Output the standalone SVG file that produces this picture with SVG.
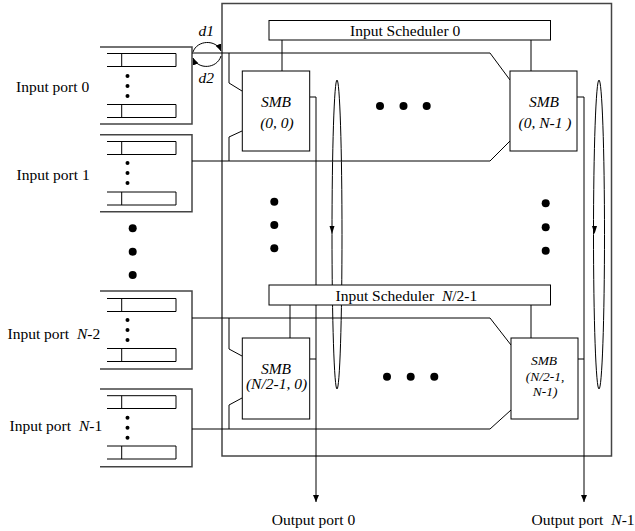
<svg xmlns="http://www.w3.org/2000/svg" width="635" height="531" viewBox="0 0 635 531">
<style>
text{font-family:"Liberation Serif","Times New Roman",serif;font-size:15.5px;fill:#000}
.it{font-style:italic}
.sm{font-size:13.5px}
.ln{fill:none;stroke:#000;stroke-width:1}
.gr{fill:none;stroke:#444;stroke-width:1.5}
.box{fill:#fff;stroke:#000;stroke-width:1}
.dot{fill:#000}
</style>
<defs>
<marker id="ah" markerWidth="8" markerHeight="8" refX="7" refY="4" orient="auto" markerUnits="userSpaceOnUse">
<path d="M0,1 L7,4 L0,7 Z" fill="#000"/>
</marker>
</defs>
<rect width="635" height="531" fill="#fff"/>

<g id="outer-box"><rect x="222" y="3.5" width="389.5" height="452.5" class="gr"/></g>

<g id="port0">
<path d="M100,47 H192 V124 H100" class="gr"/>
<path d="M107,53.5 H176 V66.5 H107 M121.7,53.5 V66.5 M107,104.5 H176 V117.5 H107 M121.7,104.5 V117.5" class="ln"/>
<circle cx="127.5" cy="76" r="2" class="dot"/><circle cx="127.5" cy="86" r="2" class="dot"/><circle cx="127.5" cy="96" r="2" class="dot"/>
<text x="16" y="91.5">Input port 0</text>
</g>
<g id="port1">
<path d="M100,134.7 H192 V211.7 H100" class="gr"/>
<path d="M107,141.5 H176 V154.5 H107 M121.7,141.5 V154.5 M107,192 H176 V205 H107 M121.7,192 V205" class="ln"/>
<circle cx="127.5" cy="163" r="2" class="dot"/><circle cx="127.5" cy="173" r="2" class="dot"/><circle cx="127.5" cy="183" r="2" class="dot"/>
<text x="16.5" y="180">Input port 1</text>
</g>
<g id="portN2">
<path d="M100,291 H192 V369 H100" class="gr"/>
<path d="M107,298.5 H176 V311.5 H107 M121.7,298.5 V311.5 M107,348.5 H176 V361.5 H107 M121.7,348.5 V361.5" class="ln"/>
<circle cx="127.5" cy="320" r="2" class="dot"/><circle cx="127.5" cy="330" r="2" class="dot"/><circle cx="127.5" cy="340" r="2" class="dot"/>
<text x="7.5" y="338.5">Input port <tspan class="it" dx="4">N</tspan>-2</text>
</g>
<g id="portN1">
<path d="M100,389 H192 V466.7 H100" class="gr"/>
<path d="M107,395.7 H176 V408.5 H107 M121.7,395.7 V408.5 M107,446 H176 V459 H107 M121.7,446 V459" class="ln"/>
<circle cx="127.5" cy="417.7" r="2" class="dot"/><circle cx="127.5" cy="427.7" r="2" class="dot"/><circle cx="127.5" cy="437.7" r="2" class="dot"/>
<text x="9.5" y="431">Input port <tspan class="it" dx="4">N</tspan>-1</text>
</g>

<g id="port-ellipsis">
<circle cx="132.7" cy="228.3" r="4" class="dot"/><circle cx="132.7" cy="251.7" r="4" class="dot"/><circle cx="132.7" cy="275" r="4" class="dot"/>
</g>

<g id="connectors">
<path d="M192,53 H490 L510,80" class="ln"/>
<path d="M192,161 H490 L510,141" class="ln"/>
<path d="M192,318 H490 L511,345" class="ln"/>
<path d="M192,429 H490 L511,410" class="ln"/>
<path d="M229,53 V83 L242,91 M242,131 L229,137 V161" class="ln"/>
<path d="M229,318 V349 L242,356 M242,398 L229,405 V429" class="ln"/>
<path d="M282,40 V71 M531,40 V71 M290,305 V338 M531,305 V338" class="ln"/>
<path d="M310,97 H316 V502" class="ln" marker-end="url(#ah)"/>
<path d="M310,359 H316" class="ln"/>
<path d="M577,97 H584 V502" class="ln" marker-end="url(#ah)"/>
<path d="M578,359 H584" class="ln"/>
<ellipse cx="337" cy="234.5" rx="5" ry="154.5" class="ln"/>
<path d="M329.5,226 L334.5,226 L332,234 Z" class="dot"/>
<ellipse cx="599" cy="234.5" rx="5.5" ry="154.5" class="ln"/>
<path d="M592,226 L597,226 L594.5,234 Z" class="dot"/>
<path d="M193,52 C197,40 216,39 221,51" class="ln" marker-end="url(#ah)"/>
<path d="M221,56 C217,69 198,70 193,58" class="ln" marker-end="url(#ah)"/>
<text x="198.5" y="35.5" class="it">d1</text>
<text x="198.5" y="82.5" class="it">d2</text>
</g>

<g id="scheduler0">
<rect x="269" y="20.5" width="281.5" height="19.5" class="box"/>
<text x="350" y="35.5">Input Scheduler 0</text>
</g>
<g id="schedulerN">
<rect x="269" y="285" width="281.5" height="20" class="box"/>
<text x="335.5" y="300.5">Input Scheduler <tspan class="it" dx="4">N</tspan>/2-1</text>
</g>

<g id="smb00">
<rect x="242.3" y="71" width="67.4" height="80" class="box"/>
<text x="276" y="106.5" class="it" text-anchor="middle">SMB</text>
<text x="277" y="128.3" class="it" text-anchor="middle">(0, 0)</text>
</g>
<g id="smb0N">
<rect x="510" y="71" width="67" height="80" class="box"/>
<text x="544" y="106.5" class="it" text-anchor="middle">SMB</text>
<text x="545" y="128.3" class="it" text-anchor="middle">(0, N-1 )</text>
</g>
<g id="smbN0">
<rect x="242.3" y="338" width="67.4" height="81" class="box"/>
<text x="276" y="374" class="it" text-anchor="middle">SMB</text>
<text x="276.5" y="389.3" class="it" text-anchor="middle">(N/2-1, 0)</text>
</g>
<g id="smbNN">
<rect x="511" y="338" width="67" height="81" class="box"/>
<text x="544" y="365" class="it sm" text-anchor="middle">SMB</text>
<text x="545" y="380.5" class="it sm" text-anchor="middle">(N/2-1,</text>
<text x="545" y="396" class="it sm" text-anchor="middle">N-1)</text>
</g>

<g id="inner-ellipsis">
<circle cx="274.3" cy="201.7" r="4" class="dot"/><circle cx="274.3" cy="225" r="4" class="dot"/><circle cx="274.3" cy="248.3" r="4" class="dot"/>
<circle cx="545.7" cy="203.3" r="4" class="dot"/><circle cx="545.7" cy="227.3" r="4" class="dot"/><circle cx="545.7" cy="250.7" r="4" class="dot"/>
<circle cx="380" cy="106" r="4" class="dot"/><circle cx="403.5" cy="106" r="4" class="dot"/><circle cx="426.7" cy="106" r="4" class="dot"/>
<circle cx="387" cy="376.7" r="4" class="dot"/><circle cx="410.7" cy="376.7" r="4" class="dot"/><circle cx="434.3" cy="376.7" r="4" class="dot"/>
</g>

<g id="outputs">
<text x="271.7" y="525">Output port 0</text>
<text x="531.5" y="525">Output port <tspan class="it" dx="4">N</tspan>-1</text>
</g>
</svg>
